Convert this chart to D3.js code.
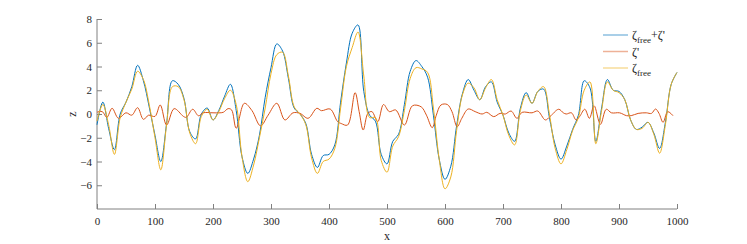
<!DOCTYPE html>
<html>
<head>
<meta charset="utf-8">
<script src="https://cdn.jsdelivr.net/npm/d3@7"></script>
<style>
  body { margin: 0; background: #fff; }
  svg text { font-family: "Liberation Serif", "DejaVu Serif", serif; }
</style>
</head>
<body>
<svg id="chart" width="747" height="244"></svg>
<script>
// sample positions for the two main surfaces (every 10 units)
const xSteps = d3.range(0, 1001, 10);

// zeta_free + zeta'
const zetaTotal = [
  -0.9, 1.0, -1.2, -3.0, 0.0, 1.0, 2.3, 4.1, 2.8, 0.6,
  -1.8, -4.0, -0.8, 2.8, 2.5, 1.3, -1.5, -2.1, 0.0, 0.5,
  -0.5, 0.3, 1.5, 2.5, 0.3, -3.6, -5.0, -3.8, -1.8, 1.4,
  3.9, 5.9, 5.3, 3.0, 0.5, 0.0, -0.8, -3.4, -4.5, -3.5,
  -3.4, -2.6, 1.0, 4.3, 6.8, 7.5, 1.9, -0.1, -0.6, -3.4,
  -4.2, -2.3, -1.7, 0.8, 3.6, 4.5, 4.0, 3.1, -0.1, -3.8,
  -5.5, -4.4, -1.0, 1.7, 2.9, 2.0, 1.2, 2.3, 2.7, 1.0,
  -0.1, -1.6, -2.3, 0.5, 1.8, 0.9, 1.9, 2.1, -0.3, -2.6,
  -3.8, -2.7, -1.3, -0.1, 2.8, 2.2, -2.3, 0.5, 2.9, 2.0,
  1.9, 1.2, -0.5, -1.3, -1.1, -0.7, -1.6, -2.9, -0.7, 2.5,
  3.5
];

// zeta_free
const zetaFree = [
  -0.6, 0.8, -0.9, -3.4, -0.3, 1.0, 2.1, 3.6, 2.9, 0.8,
  -2.0, -4.7, -0.9, 2.3, 2.3, 1.2, -1.6, -2.5, -0.2, 0.4,
  -0.5, 0.2, 1.3, 2.0, 0.8, -3.6, -5.7, -4.3, -2.0, 0.5,
  3.4, 5.0, 5.2, 3.2, 0.6, 0.0, -0.9, -3.7, -5.0, -4.0,
  -3.8, -2.9, 0.5, 4.0, 5.6, 6.9, 3.2, -0.3, -0.3, -3.9,
  -4.9, -2.7, -1.9, 0.3, 3.0, 3.9, 3.8, 3.5, 0.5, -3.8,
  -6.3, -5.3, -1.4, 1.6, 2.6, 2.2, 1.2, 2.2, 2.9, 1.2,
  -0.1, -1.8, -2.6, 0.3, 1.6, 0.9, 1.9, 2.3, 0.0, -2.9,
  -4.2, -3.0, -1.4, -0.3, 2.0, 2.7, -2.5, 0.3, 2.7, 2.0,
  1.8, 1.2, -0.5, -1.3, -1.2, -0.7, -1.7, -3.3, -0.9, 2.5,
  3.5
];

// zeta' (read at its turning points)
const primeX = [
  0, 9, 17, 26, 37, 50, 60, 70, 80, 89, 100, 109, 120, 133, 149, 154, 165, 175, 183, 200,
  212, 218, 226, 232, 240, 254, 267, 282, 295, 310, 324, 338, 350, 364, 379, 387, 402, 415, 421, 432,
  445, 452, 459, 467, 474, 484, 494, 504, 515, 530, 544, 559, 568, 578, 585, 593, 604, 612, 621, 629,
  640, 652, 664, 672, 684, 695, 704, 714, 724, 733, 750, 760, 773, 781, 796, 804, 809, 818, 826, 832,
  841, 849, 857, 868, 878, 887, 901, 913, 921, 933, 947, 956, 963, 969, 976, 984, 993
];
const zetaPrime = [
  0.15, 0.2, -0.28, 0.48, -0.36, 0.1, -0.1, 0.53, -0.45, -0.1, -0.2, 0.76, -0.93, 0.45, -0.2, -0.28, 0.4, -0.15, 0.1, 0.1,
  0.1, 0.15, 0.45, 0.35, -1.2, 0.9, 0.3, -1.0, -0.1, 0.9, -0.5, 0.1, 0.05, -0.36, 0.48, 0.28, 0.42, -0.65, -0.8, -0.93,
  1.8, 0.2, -1.35, 0.05, 0.2, -0.65, 0.8, 0.2, 0.34, -0.93, 0.7, 0.6, -0.1, -1.15, -0.1, 0.76, 0.8, 0.2, -1.07, -0.36,
  0.42, 0.2, 0.0, 0.14, -0.22, 0.05, 0.0, 0.25, -0.36, 0.14, 0.1, 0.25, -0.5, -0.22, 0.4, 0.1, 0.0, 0.1, -0.5, -0.22,
  0.4, -0.36, 0.7, -0.87, 0.4, 0.1, 0.1, -0.14, -0.14, 0.05, 0.1, 0.05, 0.42, 0.05, -0.7, 0.2, -0.14
];

const xTicks = d3.range(0, 1001, 100);
const yTicks = [-6, -4, -2, 0, 2, 4, 6, 8];

const colors = { total: "#0072BD", prime: "#D95319", free: "#EDB120" };
const serif = "'Liberation Serif', 'DejaVu Serif', serif";

const svg = d3.select("#chart");
const x = d3.scaleLinear().domain([0, 1000]).range([97, 677]);
const y = d3.scaleLinear().domain([-8, 8]).range([209, 19]);

// axes, ticks pointing inward like matlab
const xAxis = svg.append("g")
  .attr("transform", `translate(0, ${y(-8)})`)
  .call(d3.axisBottom(x).tickValues(xTicks).tickFormat(d3.format("d"))
    .tickSizeInner(-5).tickSizeOuter(0).tickPadding(8));
const yAxis = svg.append("g")
  .attr("transform", `translate(${x(0)}, 0)`)
  .call(d3.axisLeft(y).tickValues(yTicks).tickFormat(d3.format("d"))
    .tickSizeInner(-5).tickSizeOuter(0).tickPadding(5));

[xAxis, yAxis].forEach(ax => {
  ax.attr("font-family", serif).attr("font-size", 11);
  ax.select(".domain").attr("stroke", "#808080");
  ax.selectAll(".tick line").attr("stroke", "#808080");
  ax.selectAll(".tick text").attr("fill", "#262626");
});
yAxis.select(".domain").attr("d", `M0,${y(-8)}V${y(8)}`);
xAxis.select(".domain").attr("d", `M${x(0)},0H${x(1000)}`);

svg.append("text")
  .attr("x", x(500))
  .attr("y", 240)
  .attr("text-anchor", "middle")
  .attr("fill", "#262626")
  .attr("font-family", serif)
  .attr("font-size", 12)
  .text("x");

svg.append("text")
  .attr("transform", `translate(76, ${y(0)}) rotate(-90)`)
  .attr("text-anchor", "middle")
  .attr("fill", "#262626")
  .attr("font-family", serif)
  .attr("font-size", 12)
  .text("z");

const line = d3.line()
  .x(d => x(d[0]))
  .y(d => y(d[1]))
  .curve(d3.curveCatmullRom.alpha(0.5));

svg.append("path")
  .datum(xSteps.map((v, i) => [v, zetaTotal[i]]))
  .attr("fill", "none")
  .attr("stroke", colors.total)
  .attr("stroke-width", 1)
  .attr("d", line);

svg.append("path")
  .datum(primeX.map((v, i) => [v, zetaPrime[i]]))
  .attr("fill", "none")
  .attr("stroke", colors.prime)
  .attr("stroke-width", 1)
  .attr("d", line);

svg.append("path")
  .datum(xSteps.map((v, i) => [v, zetaFree[i]]))
  .attr("fill", "none")
  .attr("stroke", colors.free)
  .attr("stroke-width", 1)
  .attr("d", line);

// legend
const legendItems = [
  { key: "total", parts: [["ζ", 0], ["free", 1], ["+ζ'", 0]] },
  { key: "prime", parts: [["ζ'", 0]] },
  { key: "free", parts: [["ζ", 0], ["free", 1]] }
];

const legend = svg.append("g").attr("transform", "translate(603, 35)");
legendItems.forEach((item, i) => {
  const row = legend.append("g").attr("transform", `translate(0, ${i * 16.5})`);
  row.append("line")
    .attr("x1", 0).attr("x2", 25)
    .attr("stroke", colors[item.key])
    .attr("stroke-opacity", 0.45)
    .attr("stroke-width", 1.5);
  const t = row.append("text")
    .attr("x", 29)
    .attr("y", 4)
    .attr("fill", "#262626")
    .attr("font-family", serif)
    .attr("font-size", 12);
  item.parts.forEach(([s, sub], j) => {
    t.append("tspan")
      .attr("dy", sub ? 4 : (j > 0 ? -4 : 0))
      .attr("font-size", sub ? 9 : 12)
      .text(s);
  });
});
</script>
</body>
</html>
